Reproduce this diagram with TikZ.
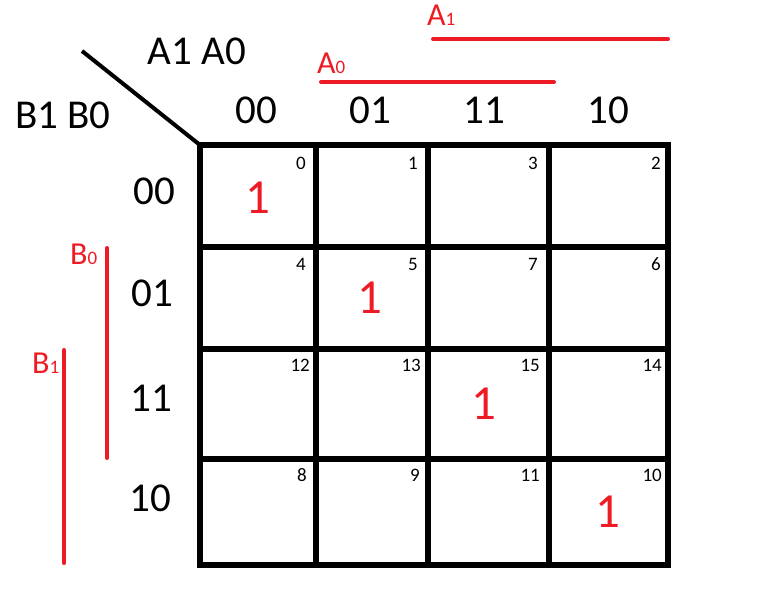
\documentclass[tikz,border=0pt]{standalone}
\usepackage{fontspec}
\setmainfont{Carlito}
\definecolor{kred}{HTML}{ED1C24}
\begin{document}
\begin{tikzpicture}[x=1pt,y=-1pt,
  grid/.style={line width=5.5pt,line cap=rect},
  head/.style={inner sep=0pt,anchor=center,font=\fontsize{41}{44}\selectfont},
  idx/.style={inner sep=0pt,anchor=east,font=\fontsize{19}{20}\selectfont},
  one/.style={inner sep=0pt,anchor=center,text=kred,font=\fontsize{49}{52}\selectfont},
  varlab/.style={inner sep=0pt,anchor=base west,text=kred,font=\fontsize{32}{34}\selectfont},
  redline/.style={kred,line width=4pt,line cap=round}]
\useasboundingbox (0,0) rectangle (762,607);
% grid corners
\coordinate (g00) at (200,145);
\coordinate (g11) at (668,565);
\draw[grid] (g00) rectangle (g11);
\foreach \x in {316,428,549}{\draw[grid] (\x,145) -- (\x,565);}
\foreach \y in {247,349,459}{\draw[grid] (200,\y) -- (668,\y);}
% diagonal
\coordinate (d0) at (82,51);
\draw[line width=4pt] (d0) -- (g00);
% variable labels
\node[head] (ahead) at (197,51) {A1 A0};
\node[head] (bhead) at (63,115) {B1 B0};
% column headers
\node[head] (c0) at (256,110) {00};
\node[head] (c1) at (370,110) {01};
\node[head] (c2) at (484,110) {11};
\node[head] (c3) at (608,110) {10};
% row headers
\node[head] (r0) at (154,191) {00};
\node[head] (r1) at (152,293) {01};
\node[head] (r2) at (151,398) {11};
\node[head] (r3) at (150,498) {10};
% cell indices
\node[idx] (i0) at (306,163) {0};
\node[idx] (i1) at (418,163) {1};
\node[idx] (i3) at (538,163) {3};
\node[idx] (i2) at (661,163) {2};
\node[idx] (i4) at (306,264) {4};
\node[idx] (i5) at (418,264) {5};
\node[idx] (i7) at (538,264) {7};
\node[idx] (i6) at (661,264) {6};
\node[idx] (i12) at (310,365) {12};
\node[idx] (i13) at (421,365) {13};
\node[idx] (i15) at (540,365) {15};
\node[idx] (i14) at (662,365) {14};
\node[idx] (i8) at (307,475) {8};
\node[idx] (i9) at (420,475) {9};
\node[idx] (i11) at (540,475) {11};
\node[idx] (i10) at (662,475) {10};
% ones
\node[one] (m0) at (258,198) {1};
\node[one] (m5) at (370,298) {1};
\node[one] (m15) at (484,404) {1};
\node[one] (m10) at (608,512) {1};
% red variable bars
\node[varlab] (la1) at (427,26) {A\fontsize{19}{20}\selectfont 1};
\node[varlab] (la0) at (317,74) {A\fontsize{19}{20}\selectfont 0};
\node[varlab] (lb0) at (70,264) {B\fontsize{19}{20}\selectfont 0};
\node[varlab] (lb1) at (32,373) {B\fontsize{19}{20}\selectfont 1};
\coordinate (a1s) at (433,39); \coordinate (a1e) at (668,39);
\coordinate (a0s) at (321,82); \coordinate (a0e) at (554,82);
\coordinate (b0s) at (107,248); \coordinate (b0e) at (107,458);
\coordinate (b1s) at (64,350); \coordinate (b1e) at (64,563);
\draw[redline] (a1s) -- (a1e);
\draw[redline] (a0s) -- (a0e);
\draw[redline] (b0s) -- (b0e);
\draw[redline] (b1s) -- (b1e);
\end{tikzpicture}
\end{document}
